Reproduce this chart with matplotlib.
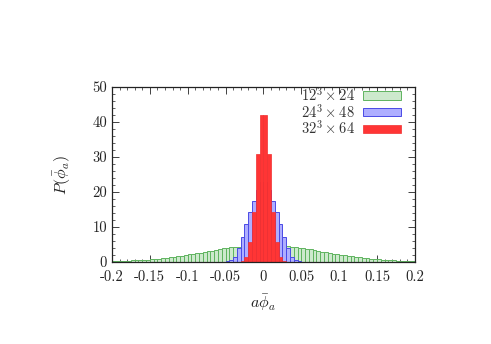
import numpy as np
import matplotlib
matplotlib.use("Agg")
import matplotlib.pyplot as plt

plt.rcParams['mathtext.fontset'] = 'cm'
plt.rcParams['font.family'] = ['cmr10', 'DejaVu Serif']
plt.rcParams['axes.unicode_minus'] = False

bin_width = 0.005

# 12^3 x 24 : bins from -0.2 to 0.2
green_start = -0.2
green_vals = [0.3, 0.3, 0.35, 0.4, 0.45, 0.5, 0.55, 0.6, 0.65, 0.75,
              0.8, 0.9, 1.0, 1.1, 1.2, 1.35, 1.5, 1.65, 1.8, 2.0,
              2.2, 2.35, 2.5, 2.65, 2.85, 3.05, 3.3, 3.5, 3.7, 3.9,
              4.05, 4.2, 4.35, 4.45, 4.55, 4.65, 4.7, 4.75, 4.8, 4.8,
              4.8, 4.8, 4.75, 4.7, 4.65, 4.6, 4.5, 4.4, 4.3, 4.15,
              4.0, 3.85, 3.65, 3.45, 3.25, 3.0, 2.8, 2.6, 2.45, 2.3,
              2.1, 1.95, 1.8, 1.65, 1.5, 1.35, 1.2, 1.1, 1.0, 0.9,
              0.8, 0.7, 0.65, 0.55, 0.5, 0.45, 0.4, 0.35, 0.3, 0.3]

# 24^3 x 48 : bins from -0.06 to 0.06
blue_start = -0.06
blue_vals = [0.05, 0.1, 0.3, 0.7, 1.5, 3.9, 7.2, 11.0, 14.4, 17.4, 20.5, 23.0,
             23.0, 20.5, 17.4, 14.4, 11.0, 7.2, 3.9, 1.5, 0.7, 0.3, 0.1, 0.05]

# 32^3 x 64 : bins from -0.03 to 0.03
red_start = -0.03
red_vals = [0.3, 1.5, 5.8, 14.4, 31.0, 42.0, 42.0, 31.0, 14.4, 5.8, 1.5, 0.3]

labels = [r'$12^3\times 24$', r'$24^3\times 48$', r'$32^3\times 64$']
xticks = [-0.2, -0.15, -0.1, -0.05, 0, 0.05, 0.1, 0.15, 0.2]
xticklabels = ['-0.2', '-0.15', '-0.1', '-0.05', '0', '0.05', '0.1', '0.15', '0.2']
yticks = [0, 10, 20, 30, 40, 50]

fig = plt.figure(figsize=(4.91, 3.44), dpi=100)
ax = fig.add_axes([0.228, 0.238, 0.617, 0.509])

def left_edges(start, vals):
    return start + bin_width * np.arange(len(vals))

ax.bar(left_edges(green_start, green_vals), green_vals, width=bin_width, align='edge',
       facecolor='#cde9cd', edgecolor='#5fb45f', linewidth=0.7, label=labels[0], zorder=2)
ax.bar(left_edges(blue_start, blue_vals), blue_vals, width=bin_width, align='edge',
       facecolor='#aeaeff', edgecolor='#4a4ae6', linewidth=0.7, label=labels[1], zorder=3)
ax.bar(left_edges(red_start, red_vals), red_vals, width=bin_width, align='edge',
       facecolor='#ff3535', edgecolor='#f03030', linewidth=0.5, label=labels[2], zorder=4)

ax.set_xlim(-0.2, 0.2)
ax.set_ylim(0, 50)
ax.set_xticks(xticks)
ax.set_xticklabels(xticklabels)
ax.set_yticks(yticks)
ax.set_xticks(np.arange(-0.2, 0.2001, 0.01), minor=True)
ax.set_yticks(np.arange(0, 50.01, 2), minor=True)
ax.tick_params(which='both', direction='in', top=True, right=True, labelsize=10.5, colors='#222222')
ax.tick_params(which='major', length=5, width=0.6)
ax.tick_params(which='minor', length=2.5, width=0.5)
ax.tick_params(axis='x', pad=6)
for s in ax.spines.values():
    s.set_linewidth(0.9)
    s.set_color('#222222')
    s.set_zorder(5)

ax.set_xlabel(r'$a\bar{\phi}_a$', fontsize=11.5, color='#222222', labelpad=6)
ax.set_ylabel(r'$P(\bar{\phi}_a)$', fontsize=11.5, color='#222222', labelpad=14)

leg = ax.legend(loc='upper right', bbox_to_anchor=(0.96, 1.015), markerfirst=False,
                frameon=False, fontsize=10.5,
                handlelength=2.6, handleheight=0.5, labelspacing=-0.09,
                borderaxespad=0.0, handletextpad=0.6, borderpad=0.1)
for t in leg.get_texts():
    t.set_color('#333333')

fig.savefig('out.png', dpi=100)
